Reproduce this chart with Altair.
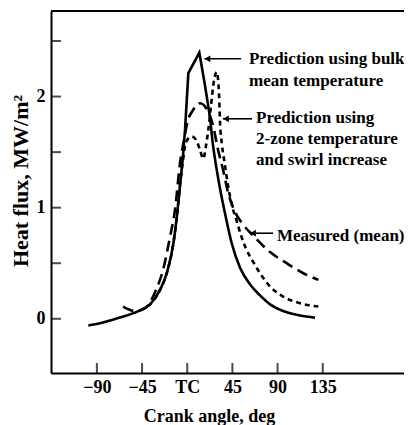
import altair as alt
import pandas as pd

# ---------------- data (crank angle in deg, heat flux in MW/m^2) ----------------
bulk_x = [-98.5, -87.0, -77.0, -62.0, -47.0, -37.1, -27.1, -20.1, -13.6, -10.2, -7.2, -4.2, -2.2,
          1.1, 12.05, 17.7, 22.7, 25.7, 29.4, 33.7, 37.6, 44.3, 52.6, 62.5, 72.5, 82.5, 95.4,
          102.4, 112.4, 127.3]
bulk_y = [-0.06, -0.04, -0.015, 0.025, 0.075, 0.13, 0.26, 0.42, 0.69, 0.93, 1.20, 1.47, 1.70,
          2.21, 2.395, 2.10, 1.81, 1.56, 1.34, 1.12, 0.95, 0.68, 0.46, 0.31, 0.21, 0.13, 0.07,
          0.05, 0.03, 0.01]

meas_x = [-63.9, -52.0, -42.0, -31.1, -24.1, -17.1, -12.2, -7.2, -3.2, 0.8, 4.5, 12.7, 21.0,
          25.7, 30.7, 35.7, 40.6, 46.6, 54.6, 65.5, 82.5, 99.0, 115.6, 130.6]
meas_y = [0.11, 0.07, 0.095, 0.26, 0.44, 0.74, 0.98, 1.40, 1.61, 1.79, 1.86, 1.94, 1.86,
          1.74, 1.52, 1.34, 1.14, 0.98, 0.86, 0.75, 0.60, 0.50, 0.41, 0.35]

zone_x = [-47.0, -37.1, -27.1, -20.1, -13.6, -10.2, -7.2, -4.2, -1.2, 4.5, 8.8, 12.7, 16.0,
          18.7, 21.0, 23.7, 26.7, 29.4, 31.7, 32.7, 34.7, 37.6, 40.6, 44.6, 49.6, 53.6, 58.6,
          65.8, 72.5, 82.5, 95.4, 112.4, 130.6]
zone_y = [0.075, 0.13, 0.26, 0.42, 0.69, 0.93, 1.20, 1.43, 1.59, 1.64, 1.61, 1.52, 1.44,
          1.56, 1.70, 1.92, 2.15, 2.22, 2.01, 1.76, 1.56, 1.38, 1.20, 1.02, 0.87, 0.75, 0.63,
          0.51, 0.41, 0.29, 0.20, 0.14, 0.11]

x_tick_values = [-90, -45, 0, 45, 90, 135]
x_tick_labels = ["\u221290", "\u221245", "TC", "45", "90", "135"]
y_label_values = [0, 1, 2]
y_tick_values = [0, 0.5, 1, 1.5, 2, 2.5]

# annotations: arrow tip, arrow tail, y
arrow_tip_x = [17.1, 35.5, 62.5]
arrow_tail_x = [53.6, 64.5, 85.5]
arrow_y = [2.34, 1.80, 0.77]

ann_text = ["Prediction using bulk", "mean temperature", "Prediction using",
            "2-zone temperature", "and swirl increase", "Measured (mean)"]
ann_x = [61.5, 61.5, 68.5, 68.5, 68.5, 89.3]
ann_y = [2.293, 2.099, 1.761, 1.572, 1.383, 0.703]

# ---------------- chart ----------------
FONT = "Liberation Serif"
W, H = 353, 362
xscale = alt.Scale(domain=[-135.7, 215.9], nice=False, zero=False)
yscale = alt.Scale(domain=[-0.488, 2.770], nice=False, zero=False)

label_expr = " : ".join(
    f"datum.value == {v} ? '{l}'" for v, l in zip(x_tick_values, x_tick_labels)
) + " : ''"

xaxis = alt.Axis(values=x_tick_values, labelExpr=label_expr, ticks=False, tickSize=0,
                 grid=False, domainColor="black", domainWidth=2,
                 labelFont=FONT, labelFontSize=18, labelFontWeight="bold",
                 labelColor="black", labelPadding=5, labelFlush=False, labelOverlap=False,
                 title="Crank angle, deg", titleFont=FONT, titleFontSize=18,
                 titleFontWeight="bold", titleColor="black", titleX=158, titleY=48,
                 titleBaseline="alphabetic")
yaxis = alt.Axis(values=y_label_values, format="d", ticks=False, tickSize=0, grid=False,
                 domainColor="black", domainWidth=2,
                 labelFont=FONT, labelFontSize=18, labelFontWeight="bold",
                 labelColor="black", labelPadding=6, labelOverlap=False,
                 title="Heat flux, MW/m\u00b2", titleFont=FONT, titleFontSize=22,
                 titleFontWeight="bold", titleColor="black", titleX=-24, titleY=169.5,
                 titleBaseline="alphabetic", titleAngle=270)


def X(f):
    return alt.X(f"{f}:Q", scale=xscale, axis=xaxis)


def Y(f):
    return alt.Y(f"{f}:Q", scale=yscale, axis=yaxis)


bulk = pd.DataFrame({"x": bulk_x, "y": bulk_y})
meas = pd.DataFrame({"x": meas_x, "y": meas_y})
zone = pd.DataFrame({"x": zone_x, "y": zone_y})

bulk_left = bulk[bulk.x <= -2.2]
bulk_mid = bulk[(bulk.x >= -2.2) & (bulk.x <= 22.7)]
bulk_right = bulk[bulk.x >= 22.7]

SW = 2.6
l_bulk_a = alt.Chart(bulk_left).mark_line(color="black", strokeWidth=SW,
                                          interpolate="monotone").encode(x=X("x"), y=Y("y"))
l_bulk_b = alt.Chart(bulk_mid).mark_line(color="black", strokeWidth=SW,
                                         strokeJoin="miter").encode(x=X("x"), y=Y("y"))
l_bulk_c = alt.Chart(bulk_right).mark_line(color="black", strokeWidth=SW,
                                           interpolate="monotone").encode(x=X("x"), y=Y("y"))
l_meas = alt.Chart(meas).mark_line(color="black", strokeWidth=SW, strokeDash=[11, 6],
                                   interpolate="monotone").encode(x=X("x"), y=Y("y"))
l_zone = alt.Chart(zone).mark_line(color="black", strokeWidth=SW, strokeDash=[5, 4],
                                   interpolate="monotone").encode(x=X("x"), y=Y("y"))

yt = pd.DataFrame({"v": y_tick_values})
xt = pd.DataFrame({"v": x_tick_values})
y_ticks = alt.Chart(yt).mark_tick(orient="horizontal", size=10, thickness=2,
                                  color="black").encode(y=Y("v"), x=alt.value(5))
x_ticks = alt.Chart(xt).mark_tick(orient="vertical", size=10, thickness=2,
                                  color="black").encode(x=X("v"), y=alt.value(H - 5))
top_line = alt.Chart(xt).mark_rule(color="black", strokeWidth=2).encode(
    x=alt.value(0), x2=alt.value(W), y=alt.value(0))

arr = pd.DataFrame({"tip": arrow_tip_x, "tail": arrow_tail_x, "y": arrow_y})
arrows = alt.Chart(arr).mark_rule(color="black", strokeWidth=1.6).encode(
    x=X("tip"), x2="tail:Q", y=Y("y"))
heads = alt.Chart(arr).mark_point(shape="triangle-left", filled=True, color="black",
                                  size=45, opacity=1, xOffset=3).encode(x=X("tip"), y=Y("y"))

ann = pd.DataFrame({"t": ann_text, "x": ann_x, "y": ann_y})
texts = alt.Chart(ann).mark_text(align="left", baseline="alphabetic", font=FONT,
                                 fontSize=17, fontWeight="bold", color="black").encode(
    x=X("x"), y=Y("y"), text="t:N")

chart = alt.layer(top_line, y_ticks, x_ticks, l_bulk_a, l_bulk_b, l_bulk_c, l_meas, l_zone,
                  arrows, heads, texts
                  ).properties(
    width=W, height=H, autosize="none",
    padding={"left": 43, "top": 3, "right": 0, "bottom": 52},
).configure_view(stroke=None).configure(background="white")

chart.save("out.html", embed_options={"renderer": "svg", "actions": False})
